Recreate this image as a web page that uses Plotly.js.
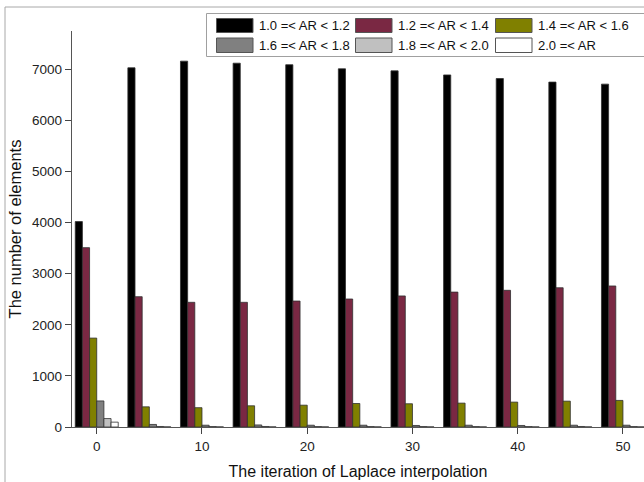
<!DOCTYPE html>
<html>
<head>
<meta charset="utf-8">
<script src="https://cdn.plot.ly/plotly-3.0.1.min.js"></script>
<style>
html,body{margin:0;padding:0;background:#fff;}
#chart{width:644px;height:482px;}
</style>
</head>
<body>
<div id="chart"></div>
<script>
// ---- data ----
const iterations = [0, 5, 10, 15, 20, 25, 30, 35, 40, 45, 50];
const seriesNames = ["1.0 =< AR < 1.2", "1.2 =< AR < 1.4", "1.4 =< AR < 1.6",
                     "1.6 =< AR < 1.8", "1.8 =< AR < 2.0", "2.0 =< AR"];
const ar10_12 = [4020, 7030, 7160, 7120, 7090, 7010, 6970, 6890, 6820, 6750, 6710];
const ar12_14 = [3510, 2550, 2440, 2440, 2465, 2505, 2565, 2640, 2675, 2725, 2760];
const ar14_16 = [1740, 395, 378, 415, 427, 460, 455, 467, 487, 506, 520];
const ar16_18 = [510, 50, 35, 40, 35, 35, 30, 35, 30, 35, 35];
const ar18_20 = [165, 10, 8, 10, 8, 8, 8, 8, 8, 10, 8];
const ar20_up = [95, 2, 2, 2, 2, 2, 2, 2, 2, 2, 2];
const xTickVals = [0, 10, 20, 30, 40, 50];
const yTickVals = [0, 1000, 2000, 3000, 4000, 5000, 6000, 7000];

const colors = ["#000000", "#7A2843", "#808000", "#808080", "#C0C0C0", "#FFFFFF"];
const allSeries = [ar10_12, ar12_14, ar14_16, ar16_18, ar18_20, ar20_up];

const traces = allSeries.map((vals, i) => ({
  type: "bar",
  name: seriesNames[i],
  x: iterations,
  y: vals,
  marker: {color: colors[i], line: {color: "#303030", width: 0.8}},
  showlegend: false,
  hoverinfo: "x+y+name"
}));

// ---- layout geometry helpers (pixel -> paper) ----
const W = 644, H = 482, ML = 72, MR = 0, MT = 31, MB = 55;
const PW = W - ML - MR, PH = H - MT - MB;
const px = v => (v - ML) / PW;
const py = v => (H - MB - v) / PH;

const shapes = [];
const annotations = [];
// outer frame lines (left and top)
shapes.push({type: "line", xref: "paper", yref: "paper", x0: px(5), x1: px(5), y0: py(7), y1: py(482),
  line: {color: "#a8a8a8", width: 1}});
shapes.push({type: "line", xref: "paper", yref: "paper", x0: px(5), x1: px(644), y0: py(7), y1: py(7),
  line: {color: "#a8a8a8", width: 1}});
// legend box
shapes.push({type: "rect", xref: "paper", yref: "paper", x0: px(206.5), x1: px(650), y0: py(13.5), y1: py(56.5),
  line: {color: "#a0a0a0", width: 1}, fillcolor: "#ffffff"});
const colX = [216.5, 355.5, 495.5];
const rowY = [[18.5, 32.5], [38, 52.5]];
for (let i = 0; i < 6; i++) {
  const c = i % 3, r = Math.floor(i / 3);
  shapes.push({type: "rect", xref: "paper", yref: "paper",
    x0: px(colX[c]), x1: px(colX[c] + 36.5), y0: py(rowY[r][0]), y1: py(rowY[r][1]),
    line: {color: "#555555", width: 1}, fillcolor: colors[i]});
  annotations.push({xref: "paper", yref: "paper", x: px(colX[c] + 40.5), y: py((rowY[r][0] + rowY[r][1]) / 2),
    text: seriesNames[i], showarrow: false, xanchor: "left", yanchor: "middle",
    font: {family: "Liberation Sans, Arial, sans-serif", size: 13, color: "#111"}});
}

const layout = {
  width: W, height: H,
  margin: {l: ML, r: MR, t: MT, b: MB, pad: 0},
  paper_bgcolor: "#ffffff",
  plot_bgcolor: "#ffffff",
  barmode: "group",
  bargap: 0.183,
  bargroupgap: 0,
  font: {family: "Liberation Sans, Arial, sans-serif", size: 13, color: "#222"},
  xaxis: {
    range: [-2.35, 52.0],
    tickvals: xTickVals,
    ticks: "outside", ticklen: 6, tickwidth: 1, tickcolor: "#444",
    showline: true, linecolor: "#555", linewidth: 1.3,
    showgrid: false, zeroline: false,
    tickfont: {size: 13.5, color: "#222"},
    title: {text: "The iteration of Laplace interpolation", font: {size: 16, color: "#111"}, standoff: 13}
  },
  yaxis: {
    range: [0, 7750],
    tickvals: yTickVals,
    ticks: "outside", ticklen: 6, tickwidth: 1, tickcolor: "#444",
    showline: true, linecolor: "#555", linewidth: 1.3,
    showgrid: false, zeroline: false,
    tickfont: {size: 13.5, color: "#222"},
    title: {text: "The number of elements", font: {size: 16.5, color: "#111"}, standoff: 6}
  },
  shapes: shapes,
  annotations: annotations
};

Plotly.newPlot("chart", traces, layout, {displayModeBar: false, staticPlot: true});
</script>
</body>
</html>
